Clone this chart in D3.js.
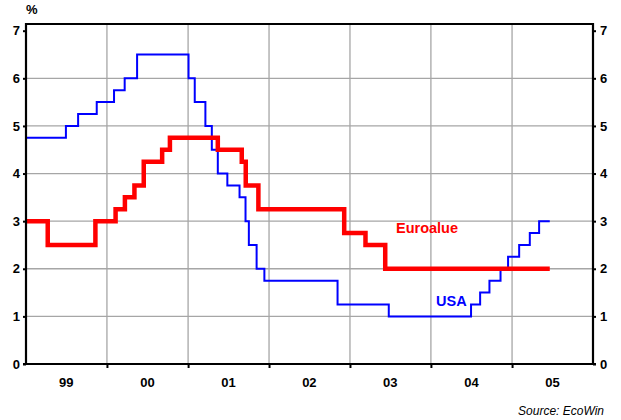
<!DOCTYPE html>
<html>
<head>
<meta charset="utf-8">
<script src="https://cdn.jsdelivr.net/npm/d3@7"></script>
<style>
  body { margin: 0; background: #fff; }
  svg { font-family: "Liberation Sans", Arial, sans-serif; }
</style>
</head>
<body>
<svg id="chart"></svg>
<script>
// policy rate changes: [date, rate]
var usaDates = ["1999-01-01","1999-06-30","1999-08-24","1999-11-16","2000-02-02","2000-03-21","2000-05-16",
  "2001-01-03","2001-01-31","2001-03-20","2001-04-18","2001-05-15","2001-06-27","2001-08-21","2001-09-17",
  "2001-10-02","2001-11-06","2001-12-11","2002-11-06","2003-06-25","2004-06-30","2004-08-10","2004-09-21",
  "2004-11-10","2004-12-14","2005-02-02","2005-03-22","2005-05-03","2005-06-20"]
var usaRates = [4.75,5.0,5.25,5.5,5.75,6.0,6.5,6.0,5.5,5.0,4.5,4.0,3.75,3.5,3.0,2.5,2.0,1.75,1.25,1.0,
  1.25,1.5,1.75,2.0,2.25,2.5,2.75,3.0,3.0]

var euroDates = ["1999-01-01","1999-04-09","1999-11-10","2000-02-09","2000-03-22","2000-05-04","2000-06-15",
  "2000-09-06","2000-10-11","2001-05-15","2001-08-31","2001-09-18","2001-11-14","2002-12-06","2003-03-12",
  "2003-06-09","2005-06-20"]
var euroRates = [3.0,2.5,3.0,3.25,3.5,3.75,4.25,4.5,4.75,4.5,4.25,3.75,3.25,2.75,2.5,2.0,2.0]

var yearLabels = ["99","00","01","02","03","04","05"]
var yTicks = [0,1,2,3,4,5,6,7]

var width = 621, height = 420
var margin = {left: 26, right: 28, top: 24, bottom: 56}

var svg = d3.select("#chart").attr("width", width).attr("height", height)
var parse = d3.timeParse("%Y-%m-%d")

var x = d3.scaleTime()
  .domain([parse("1999-01-01"), parse("2006-01-01")])
  .range([margin.left, width - margin.right])
var y = d3.scaleLinear()
  .domain([0, 7])
  .range([364, 30.7])

var plotTop = margin.top

var usa = usaDates.map(function(d, i){ return {date: parse(d), value: usaRates[i]} })
var euro = euroDates.map(function(d, i){ return {date: parse(d), value: euroRates[i]} })

var yearStarts = d3.range(2000, 2006).map(function(yr){ return new Date(yr, 0, 1) })

// grid
var grid = svg.append("g").attr("stroke", "#a6a6a6").attr("stroke-width", 1.3)
grid.selectAll("line.h").data(yTicks.slice(1, 7)).enter().append("line")
  .attr("x1", x.range()[0]).attr("x2", x.range()[1])
  .attr("y1", d => y(d)).attr("y2", d => y(d))
grid.selectAll("line.v").data(yearStarts).enter().append("line")
  .attr("x1", d => x(d)).attr("x2", d => x(d))
  .attr("y1", plotTop).attr("y2", y(0))

// lines
var line = d3.line().x(d => x(d.date)).y(d => y(d.value)).curve(d3.curveStepAfter)

svg.append("path").datum(usa)
  .attr("fill", "none").attr("stroke", "#0000ff").attr("stroke-width", 2)
  .attr("d", line)

svg.append("path").datum(euro)
  .attr("fill", "none").attr("stroke", "#ff0000").attr("stroke-width", 4.5)
  .attr("d", line)

// axes
var fontCss = "font-size:13px;font-weight:bold;font-family:'Liberation Sans',Arial,sans-serif"

var left = svg.append("g").attr("transform", "translate(" + x.range()[0] + ",0)")
  .call(d3.axisLeft(y).tickValues(yTicks).tickSize(3).tickPadding(3).tickFormat(d3.format("d")))
var right = svg.append("g").attr("transform", "translate(" + x.range()[1] + ",0)")
  .call(d3.axisRight(y).tickValues(yTicks).tickSize(3).tickPadding(4).tickFormat(d3.format("d")))
var bottom = svg.append("g").attr("transform", "translate(0," + y(0) + ")")
  .call(d3.axisBottom(x).tickValues(yearStarts).tickSize(4).tickFormat(""))

;[left, right, bottom].forEach(function(g){
  g.select(".domain").remove()
  g.selectAll(".tick line").attr("stroke-width", 2)
  g.selectAll("text").attr("style", fontCss).attr("fill", "#000")
})

// frame
var frame = svg.append("g").attr("stroke", "#000").attr("stroke-width", 2.2)
frame.append("line").attr("x1", x.range()[0]).attr("x2", x.range()[1])
  .attr("y1", plotTop).attr("y2", plotTop)
frame.append("line").attr("x1", x.range()[0]).attr("x2", x.range()[0])
  .attr("y1", plotTop - 1).attr("y2", y(0) + 1)
frame.append("line").attr("x1", x.range()[1]).attr("x2", x.range()[1])
  .attr("y1", plotTop - 1).attr("y2", y(0) + 1)
frame.append("line").attr("x1", x.range()[0] - 3).attr("x2", x.range()[1] + 3)
  .attr("y1", y(0)).attr("y2", y(0))

// year labels centred in each year
svg.append("g").selectAll("text").data(yearLabels).enter().append("text")
  .attr("x", (d, i) => x(new Date(1999 + i, 6, 2)))
  .attr("y", 387)
  .attr("text-anchor", "middle")
  .attr("style", fontCss)
  .text(d => d)

svg.append("text").attr("x", 26).attr("y", 14).attr("style", fontCss).text("%")

svg.append("text").attr("x", 396).attr("y", 233)
  .attr("fill", "#ff0000").attr("font-size", 14.5).attr("font-weight", "bold").text("Euroalue")
svg.append("text").attr("x", 436).attr("y", 306)
  .attr("fill", "#0000ff").attr("font-size", 14.5).attr("font-weight", "bold").text("USA")

svg.append("text").attr("x", 604).attr("y", 415).attr("text-anchor", "end")
  .attr("font-size", 12).attr("font-style", "italic").text("Source: EcoWin")
</script>
</body>
</html>
